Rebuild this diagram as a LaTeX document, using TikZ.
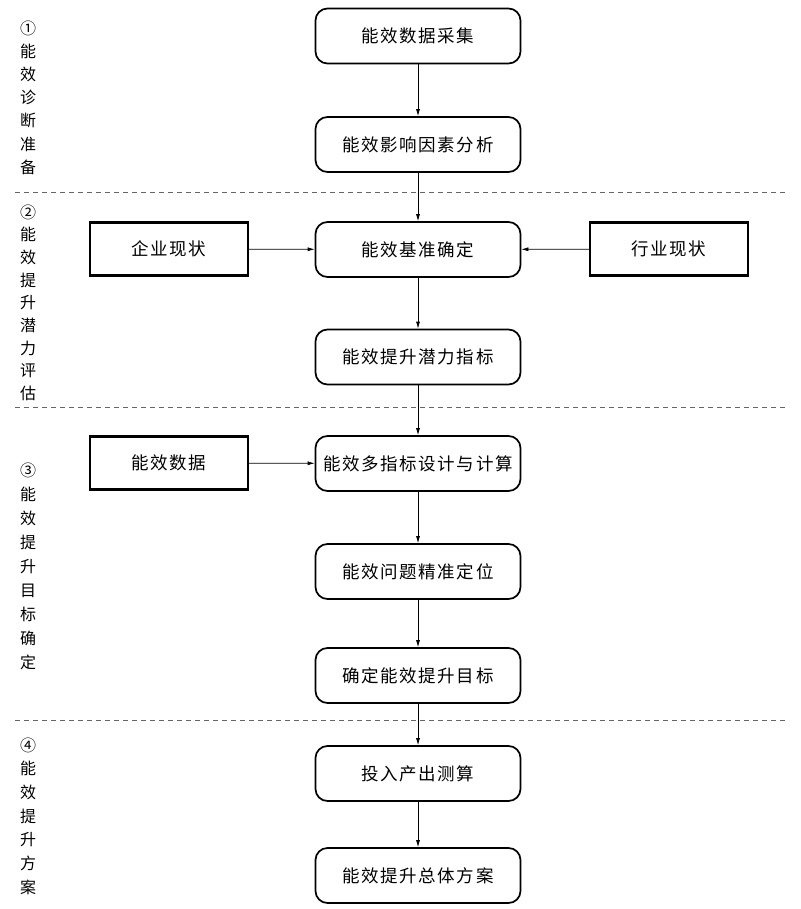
\documentclass[tikz,border=0pt]{standalone}
\usepackage{fontspec}
\setmainfont{Noto Sans CJK SC}
\newfontfamily\boxfont[LetterSpace=9]{Noto Sans CJK SC}
\usetikzlibrary{arrows.meta}
\begin{document}
\begin{tikzpicture}[x=1pt,y=-1pt,
  flow/.style={draw,line width=1.7pt,rounded corners=12pt,minimum width=205pt,minimum height=55pt,inner sep=0pt,font=\boxfont\fontsize{17.5}{20}\selectfont},
  side/.style={draw,line width=2.2pt,minimum width=158pt,minimum height=53pt,inner sep=0pt,font=\boxfont\fontsize{17.5}{20}\selectfont},
  conn/.style={line width=0.7pt,-{Latex[length=7pt,width=4pt]}},
  sep/.style={line width=0.8pt,gray!80!black,dash pattern=on 5pt off 4pt},
  lbl/.style={font=\fontsize{16}{18}\selectfont,inner sep=0pt}]
\useasboundingbox (0,0) rectangle (800,909);
% main flow
\node[flow] (b1) at (418,36) {能效数据采集};
\node[flow] (b2) at (418,144.5) {能效影响因素分析};
\node[flow] (b3) at (418,249.5) {能效基准确定};
\node[flow] (b4) at (418,357) {能效提升潜力指标};
\node[flow] (b5) at (418,463.5) {能效多指标设计与计算};
\node[flow] (b6) at (418,571.5) {能效问题精准定位};
\node[flow] (b7) at (418,675.5) {确定能效提升目标};
\node[flow] (b8) at (418,773.5) {投入产出测算};
\node[flow] (b9) at (418,875.5) {能效提升总体方案};
% side boxes
\node[side] (s1) at (169,249) {企业现状};
\node[side] (s2) at (669,249) {行业现状};
\node[side] (s3) at (169,463) {能效数据};
% connectors
\draw[conn] (b1) -- (b2);
\draw[conn] (b2) -- (b3);
\draw[conn] (b3) -- (b4);
\draw[conn] (b4) -- (b5);
\draw[conn] (b5) -- (b6);
\draw[conn] (b6) -- (b7);
\draw[conn] (b7) -- (b8);
\draw[conn] (b8) -- (b9);
\draw[conn] (s1) -- (b3);
\draw[conn] (s2) -- (b3);
\draw[conn] (s3) -- (b5);
% separators
\coordinate (d1l) at (15,192); \coordinate (d1r) at (785,192);
\coordinate (d2l) at (15,407); \coordinate (d2r) at (785,407);
\coordinate (d3l) at (15,720); \coordinate (d3r) at (785,720);
\draw[sep] (d1l) -- (d1r);
\draw[sep] (d2l) -- (d2r);
\draw[sep] (d3l) -- (d3r);
% left labels
\foreach \t [count=\i from 0] in {①,能,效,诊,断,准,备}
  \node[lbl] (la\i) at (28,28+23.2*\i) {\t};
\foreach \t [count=\i from 0] in {②,能,效,提,升,潜,力,评,估}
  \node[lbl] (lb\i) at (28,212+22.7*\i) {\t};
\foreach \t [count=\i from 0] in {③,能,效,提,升,目,标,确,定}
  \node[lbl] (lc\i) at (28,470+24.1*\i) {\t};
\foreach \t [count=\i from 0] in {④,能,效,提,升,方,案}
  \node[lbl] (ld\i) at (28,745+23.7*\i) {\t};
\end{tikzpicture}
\end{document}
